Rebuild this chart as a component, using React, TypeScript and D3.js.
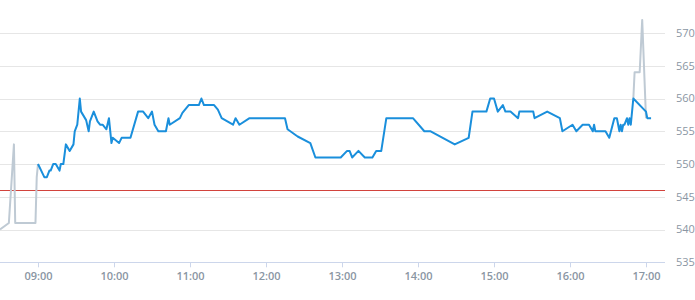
import React from "react";
import * as d3 from "d3";

const preTimes = ["08:30", "08:37", "08:41", "08:42", "08:58", "08:59", "09:00"];
const preValues = [540, 541, 553, 541, 541, 548, 550];

const postTimes = ["16:50", "16:51", "16:55", "16:57", "17:00"];
const postValues = [560, 564, 564, 572, 557];

const mainTimes = [
  "09:00", "09:05", "09:07", "09:09", "09:10", "09:12", "09:14", "09:17", "09:18", "09:20",
  "09:22", "09:25", "09:28", "09:29", "09:31", "09:33", "09:34", "09:38", "09:40", "09:41",
  "09:44", "09:47", "09:49", "09:51", "09:54", "09:56", "09:58", "09:59", "10:04", "10:06",
  "10:13", "10:19", "10:23", "10:27", "10:30", "10:32", "10:35", "10:41", "10:43", "10:44",
  "10:52", "10:54", "10:59", "11:07", "11:09", "11:11", "11:19", "11:22", "11:25", "11:34",
  "11:36", "11:39", "11:47", "12:15", "12:17", "12:25", "12:35", "12:39", "12:59", "13:04",
  "13:06", "13:08", "13:13", "13:18", "13:24", "13:27", "13:31", "13:35", "13:56", "14:05",
  "14:10", "14:29", "14:40", "14:43", "14:54", "14:57", "15:00", "15:03", "15:07", "15:09",
  "15:13", "15:19", "15:20", "15:31", "15:32", "15:42", "15:52", "15:54", "16:02", "16:05",
  "16:10", "16:15", "16:18", "16:19", "16:20", "16:28", "16:31", "16:35", "16:37", "16:39",
  "16:40", "16:41", "16:42", "16:43", "16:45", "16:46", "16:47", "16:48", "16:50", "17:00",
  "17:01", "17:04",
];
const mainValues = [
  550, 548, 548, 549, 549, 550, 550, 549, 550, 550,
  553, 552, 553, 555, 556, 560, 558, 556.7, 555, 556.5,
  558, 556.5, 556, 556, 555.3, 557, 553.2, 554, 553.2, 554,
  554, 558, 558, 557, 558, 556, 555, 555, 557, 556,
  557, 557.8, 559, 559, 560, 559, 559, 558.3, 557, 556,
  557, 556, 557, 557, 555.3, 554.2, 553.2, 551, 551, 552,
  552, 551, 552, 551, 551, 552, 552, 557, 557, 555,
  555, 553, 554, 558, 558, 560, 560, 558, 559, 558,
  558, 557, 558, 558, 557, 558, 557, 555, 556, 555,
  556, 556, 555, 556, 555, 555, 554, 557, 557, 555,
  556, 555, 556, 556, 557, 556, 557, 556, 560, 558,
  557, 557,
];

const xTickLabels = ["09:00", "10:00", "11:00", "12:00", "13:00", "14:00", "15:00", "16:00", "17:00"];
const yTicks = [535, 540, 545, 550, 555, 560, 565, 570];
const referenceLevel = 546;

const W = 695;
const H = 300;
const plotRight = 665;

const toMin = (t: string) => {
  const [h, m] = t.split(":").map(Number);
  return h * 60 + m;
};

export default function App() {
  const x = d3.scaleLinear().domain([toMin("08:30"), toMin("17:15")]).range([0, plotRight]);
  const y = d3.scaleLinear().domain([535, 570]).range([262.3, 33]);

  const line = d3
    .line<[number, number]>()
    .x((d) => x(d[0]))
    .y((d) => y(d[1]))
    .curve(d3.curveLinear);

  const pre = preTimes.map((t, i) => [toMin(t), preValues[i]] as [number, number]);
  const post = postTimes.map((t, i) => [toMin(t), postValues[i]] as [number, number]);
  const main = mainTimes.map((t, i) => [toMin(t), mainValues[i]] as [number, number]);

  const font = "'Open Sans', 'Noto Sans', sans-serif";

  return (
    <svg
      width={W}
      height={H}
      style={{ position: "fixed", left: 0, top: 0, background: "#fff" }}
      fontFamily={font}
    >
      {yTicks.map((v) => (
        <g key={v}>
          {v !== 535 && (
            <line x1={0} x2={plotRight} y1={Math.round(y(v)) + 0.5} y2={Math.round(y(v)) + 0.5} stroke="#e6e6e6" strokeWidth={1} />
          )}
          <text x={676} y={y(v)} dy="0.35em" fontSize={11} fill="#8a96a3">
            {v}
          </text>
        </g>
      ))}
      <line x1={0} x2={plotRight} y1={Math.round(y(535)) + 0.5} y2={Math.round(y(535)) + 0.5} stroke="#ccd6eb" strokeWidth={1} />
      {xTickLabels.map((t) => {
        const px = Math.round(x(toMin(t))) + 0.5;
        return (
          <g key={t}>
            <line x1={px} x2={px} y1={y(535)} y2={y(535) + 5} stroke="#ccd6eb" strokeWidth={1} />
            <text x={px} y={276} dy="0.35em" textAnchor="middle" fontSize={11} fontWeight={600} fill="#8a96a3">
              {t}
            </text>
          </g>
        );
      })}
      <line
        x1={0}
        x2={plotRight}
        y1={Math.round(y(referenceLevel)) + 0.5}
        y2={Math.round(y(referenceLevel)) + 0.5}
        stroke="#d2433c"
        strokeWidth={1}
      />
      <path d={line(pre) || ""} fill="none" stroke="#bfcad4" strokeWidth={2} strokeLinejoin="round" />
      <path d={line(post) || ""} fill="none" stroke="#bfcad4" strokeWidth={2} strokeLinejoin="round" />
      <path d={line(main) || ""} fill="none" stroke="#1a8fdc" strokeWidth={2} strokeLinejoin="round" />
    </svg>
  );
}
